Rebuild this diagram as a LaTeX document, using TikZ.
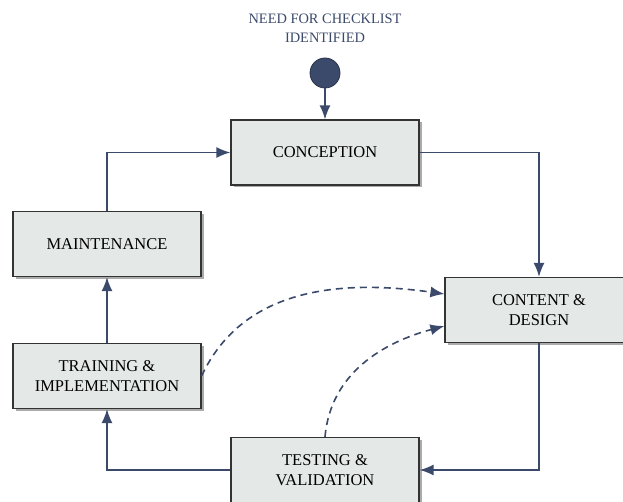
\documentclass[tikz,border=0pt]{standalone}
\usepackage{fontspec}
\setmainfont{Liberation Serif}
\usepackage{xcolor}
\usetikzlibrary{arrows.meta,shapes,positioning,shadows,calc}

\definecolor{flowblue}{HTML}{3B4A6B}
\definecolor{boxfill}{HTML}{E4E9E7}

\begin{document}
\begin{tikzpicture}[x=1pt, y=-1pt, >={Latex[length=14pt,width=11pt]}, shorten >=0pt, auto,
                node distance=2cm,
                phase/.style={rectangle, draw=black!80, line width=1.2pt, fill=boxfill,
                  minimum width=188pt, minimum height=65pt, align=center,
                  font=\fontsize{16.5}{20}\selectfont,
                  drop shadow={shadow xshift=2.5pt, shadow yshift=-2.5pt, fill=black!55, opacity=0.6}},
                flow/.style={->, draw=flowblue, line width=1.6pt},
                loop back/.style={flow, dash pattern=on 7pt off 5pt}]
		\useasboundingbox (0,0) rectangle (623,502);
		\begin{scope}
			\node [phase] (conc) at (325,152.5) {CONCEPTION};
			\node [phase] (maint) at (107,244) {MAINTENANCE};
			\node [phase] (train) at (107,376) {TRAINING \&\\IMPLEMENTATION};
			\node [phase] (cont) at (539,310) {CONTENT \&\\DESIGN};
			\node [phase] (test) at (325,470) {TESTING \&\\VALIDATION};
			\node [circle, fill=flowblue, draw=flowblue!70!black, line width=0.8pt, minimum size=30pt, inner sep=0pt]
			      (start) [above=31pt of conc] {};
			\node [align=center, inner sep=0pt, text=flowblue, font=\fontsize{14.4}{19}\selectfont]
			      (need) [above=15pt of start] {NEED FOR CHECKLIST\\IDENTIFIED};

			\draw [flow] (start) -- (conc);
			\draw [flow] (conc.east) -| (cont.north);
			\draw [flow] (cont.south) |- (test.east);
			\draw [flow] (test.west) -| (train.south);
			\draw [flow] (train) -- (maint);
			\draw [flow] (maint.north) |- (conc.west);
			\draw [loop back] (train.east) to [out=65, in=172] ($(cont.west)+(0,-16)$);
			\draw [loop back] (test.north) to [out=85, in=195] ($(cont.west)+(0,16)$);
		\end{scope}
\end{tikzpicture}
\end{document}
